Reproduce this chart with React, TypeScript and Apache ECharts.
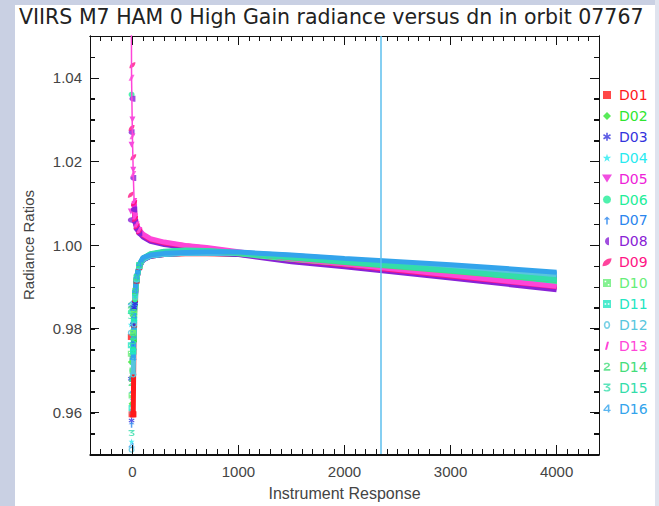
import React, { useEffect, useRef } from 'react';
import * as echarts from 'echarts';

const TITLE = 'VIIRS M7 HAM 0 High Gain radiance versus dn in orbit 07767';
const X_NAME = 'Instrument Response';
const Y_NAME = 'Radiance Ratios';

const DETECTORS = ['D01', 'D02', 'D03', 'D04', 'D05', 'D06', 'D07', 'D08', 'D09', 'D10', 'D11', 'D12', 'D13', 'D14', 'D15', 'D16'];
const COLORS = ['#ff1a1a', '#2fe62f', '#3333dd', '#28eaf0', '#ee22d8', '#22ee99', '#2a86ee', '#8a22d6', '#ff1585', '#66ee77', '#22e6c2', '#58c6de', '#ff45d8', '#44dd7a', '#33ddaa', '#33a4ec'];
// detectors whose ratio comes down from above 1 at low response
const UPPER = ['D05', 'D08', 'D09', 'D13'];

// instrument response (dn) at which each detector ratio is sampled
const DN = [-15, -8, 0, 8, 16, 25, 40, 65, 100, 170, 300, 500, 700, 1000, 1500, 2000, 3000, 4000];

const D01 = [0.978, 0.9595, 0.968, 0.9595, 0.981, 0.987, 0.9915, 0.9948, 0.9965, 0.9973, 0.9977, 0.9979, 0.9979, 0.9978, 0.997, 0.9961, 0.9943, 0.9923];
const D02 = [0.972, 0.962, 0.976, 0.983, 0.977, 0.988, 0.992, 0.995, 0.9967, 0.9976, 0.9982, 0.9985, 0.9984, 0.9978, 0.9965, 0.9954, 0.9931, 0.9906];
const D03 = [0.968, 0.958, 0.973, 0.981, 0.985, 0.986, 0.9915, 0.9947, 0.9964, 0.9973, 0.9977, 0.998, 0.998, 0.9978, 0.9969, 0.996, 0.9941, 0.9921];
const D04 = [0.981, 0.953, 0.963, 0.975, 0.984, 0.988, 0.9918, 0.9949, 0.9966, 0.9974, 0.9978, 0.998, 0.9981, 0.9981, 0.9973, 0.9964, 0.9947, 0.9928];
const D05 = [1.008, 1.024, 1.03, 1.018, 1.009, 1.0058, 1.0042, 1.0031, 1.0022, 1.0012, 1.0004, 0.9997, 0.999, 0.998, 0.9963, 0.9951, 0.9923, 0.9897];
const D06 = [0.984, 1.036, 0.97, 0.975, 0.982, 0.987, 0.992, 0.9951, 0.9967, 0.9978, 0.9984, 0.9987, 0.9986, 0.998, 0.9967, 0.9956, 0.9934, 0.9911];
const D07 = [0.985, 0.957, 0.969, 0.9765, 0.983, 0.9885, 0.9925, 0.9952, 0.9968, 0.9975, 0.9979, 0.9981, 0.9982, 0.9982, 0.9975, 0.9966, 0.995, 0.9931];
const D08 = [1.006, 1.027, 1.035, 1.016, 1.0085, 1.0055, 1.0039, 1.0028, 1.0019, 1.0009, 1.0001, 0.9994, 0.9987, 0.9977, 0.996, 0.9948, 0.9921, 0.9893];
const D09 = [1.012, 1.028, 1.043, 1.021, 1.01, 1.0062, 1.0045, 1.0033, 1.0024, 1.0013, 1.0005, 0.9998, 0.9992, 0.9982, 0.9965, 0.9953, 0.9926, 0.99];
const D10 = [0.974, 0.964, 0.97, 0.979, 0.9835, 0.9875, 0.992, 0.995, 0.9966, 0.9977, 0.9983, 0.9986, 0.9985, 0.9979, 0.9966, 0.9955, 0.9932, 0.9908];
const D11 = [0.976, 0.961, 0.968, 0.9745, 0.982, 0.988, 0.9918, 0.995, 0.9966, 0.9977, 0.9983, 0.9986, 0.9985, 0.998, 0.9967, 0.9957, 0.9935, 0.9913];
const D12 = [0.979, 0.951, 0.96, 0.969, 0.981, 0.9875, 0.9917, 0.9948, 0.9965, 0.9974, 0.9978, 0.998, 0.998, 0.998, 0.9971, 0.9962, 0.9944, 0.9925];
const D13 = [1.09, 1.04, 1.026, 1.017, 1.0105, 1.0068, 1.0049, 1.0036, 1.0026, 1.0015, 1.0007, 0.9999, 0.9994, 0.9984, 0.9967, 0.9955, 0.9928, 0.9901];
const D14 = [0.9855, 0.967, 0.9735, 0.978, 0.984, 0.989, 0.9923, 0.9952, 0.9968, 0.9978, 0.9984, 0.9987, 0.9986, 0.9981, 0.9969, 0.9958, 0.9937, 0.9915];
const D15 = [0.983, 0.955, 0.972, 0.977, 0.983, 0.9885, 0.9922, 0.9952, 0.9969, 0.9979, 0.9985, 0.9988, 0.9987, 0.9982, 0.997, 0.996, 0.9939, 0.9917];
const D16 = [0.986, 0.952, 0.965, 0.973, 0.983, 0.989, 0.9924, 0.9954, 0.997, 0.9976, 0.998, 0.9982, 0.9983, 0.9983, 0.9976, 0.9968, 0.9953, 0.9935];

const VALUES = [D01, D02, D03, D04, D05, D06, D07, D08, D09, D10, D11, D12, D13, D14, D15, D16];

// vertical reference line position (instrument response)
const CUT_DN = 2340;

const X_MIN = -400;
const X_MAX = 4400;
const X_MINOR_STEP = 100;
const Y_MIN = 0.95;
const Y_MAX = 1.05;
const Y_MINOR_STEP = 0.005;
const X_MAJOR = [0, 1000, 2000, 3000, 4000];
const Y_MAJOR = [0.96, 0.98, 1.0, 1.02, 1.04];

const ICONS = [
  'path://M0,0L10,0L10,10L0,10Z',
  'path://M5,0L10,5L5,10L0,5Z',
  'path://M4,0L6,0L6,3.3L8.9,1.6L9.9,3.4L7,5L9.9,6.6L8.9,8.4L6,6.7L6,10L4,10L4,6.7L1.1,8.4L0.1,6.6L3,5L0.1,3.4L1.1,1.6L4,3.3Z',
  'path://M5,0L6.2,3.6L10,3.6L7,5.9L8.1,9.5L5,7.3L1.9,9.5L3,5.9L0,3.6L3.8,3.6Z',
  'path://M0,1L10,1L5,9Z',
  'circle',
  'path://M5,0L9,4L6,4L6,10L4,10L4,4L1,4Z',
  'path://M6,0C3,0,1,2.2,1,5C1,7.8,3,10,6,10Z',
  'path://M1,9C1,4,5,1,10,1C10,6,6,9,1,9Z',
  'path://M0,0L10,0L10,10L0,10Z M2,2L2,4L4,4L4,2Z M6,6L6,8L8,8L8,6Z',
  'path://M0,0L10,0L10,10L0,10Z M2,4L2,6L4,6L4,4Z M6,4L6,6L8,6L8,4Z',
  'path://M5,0C7.5,0,9,2.2,9,5C9,7.8,7.5,10,5,10C2.5,10,1,7.8,1,5C1,2.2,2.5,0,5,0Z M5,2C3.8,2,3,3.2,3,5C3,6.8,3.8,8,5,8C6.2,8,7,6.8,7,5C7,3.2,6.2,2,5,2Z',
  'path://M5,0L7.5,0L5,10L2.5,10Z',
  'path://M1,2C2,0,8,-0.5,8.5,2.5C9,5,4,7,3.5,8L9,8L9,10L1,10L1,8.5C2,6,7,4.5,6.5,2.8C6,1.5,3.5,1.5,2.5,3.2Z',
  'path://M1,1L9,1L9,2.5L5.5,4.5C8,4.8,9.5,6.2,9,8C8.5,10.5,3,10.8,1,9L2,7.8C3.5,9,7,9,7,7.3C7,5.8,5,5.5,3.5,5.7L3.5,4.3L6,2.6L1,2.6Z',
  'path://M6,0L8,0L8,6.5L9.5,6.5L9.5,8L8,8L8,10L6,10L6,8L0.5,8L0.5,6.5Z M6,2.5L2.5,6.5L6,6.5Z',
];

const FONT = 'DejaVu Sans';
const AXIS_COLOR = '#111';
const TEXT_COLOR = '#444';

const CHART_W = 659;
const CHART_H = 506;
const GRID = { left: 90, right: 60, top: 36, bottom: 51 };
const MAJOR_TICK_PX = 9;
const MINOR_TICK_PX = 5;

function buildOption() {
  const axisLine = { show: true, onZero: false, lineStyle: { color: AXIS_COLOR, width: 1 } };

  const majorX = (position: string, labels: boolean) => ({
    type: 'value',
    gridIndex: 0,
    position,
    min: X_MIN,
    max: X_MAX,
    name: labels ? X_NAME : undefined,
    nameLocation: 'middle',
    nameGap: 31,
    nameTextStyle: { fontSize: 16, color: TEXT_COLOR },
    axisLine,
    axisTick: { show: true, inside: true, length: MAJOR_TICK_PX, customValues: X_MAJOR, lineStyle: { color: AXIS_COLOR, width: 1 } },
    axisLabel: labels
      ? { customValues: X_MAJOR, fontSize: 15, color: TEXT_COLOR, margin: 10, formatter: (v: number) => String(v) }
      : { show: false },
    splitLine: { show: false },
  });
  const minorX = (position: string) => ({
    type: 'value',
    gridIndex: 1,
    position,
    min: X_MIN,
    max: X_MAX,
    interval: X_MINOR_STEP,
    axisLine,
    axisTick: { show: true, inside: true, length: MINOR_TICK_PX, lineStyle: { color: AXIS_COLOR, width: 1 } },
    axisLabel: { show: false },
    splitLine: { show: false },
  });
  const majorY = (position: string, labels: boolean) => ({
    type: 'value',
    gridIndex: 0,
    position,
    min: Y_MIN,
    max: Y_MAX,
    name: labels ? Y_NAME : undefined,
    nameLocation: 'middle',
    nameGap: 54,
    nameTextStyle: { fontSize: 15, color: TEXT_COLOR },
    axisLine,
    axisTick: { show: true, inside: true, length: MAJOR_TICK_PX, customValues: Y_MAJOR, lineStyle: { color: AXIS_COLOR, width: 1 } },
    axisLabel: labels
      ? { customValues: Y_MAJOR, fontSize: 15, color: TEXT_COLOR, margin: 8, formatter: (v: number) => v.toFixed(2) }
      : { show: false },
    splitLine: { show: false },
  });
  const minorY = (position: string) => ({
    type: 'value',
    gridIndex: 1,
    position,
    min: Y_MIN,
    max: Y_MAX,
    interval: Y_MINOR_STEP,
    axisLine,
    axisTick: { show: true, inside: true, length: MINOR_TICK_PX, lineStyle: { color: AXIS_COLOR, width: 1 } },
    axisLabel: { show: false },
    splitLine: { show: false },
  });

  const series: any[] = [];
  DETECTORS.forEach((name, i) => {
    const color = COLORS[i];
    const vals = VALUES[i];
    const pts = DN.map((x, j) => [x, vals[j]]);
    const upper = UPPER.includes(name);
    const lineStart = upper ? 4 : 3;
    const dotStart = name === 'D13' ? 1 : 0;
    if (name === 'D13') {
      series.push({
        name,
        type: 'line',
        xAxisIndex: 0,
        yAxisIndex: 0,
        data: pts.slice(0, lineStart + 1),
        showSymbol: false,
        lineStyle: { width: 1.5, color },
        itemStyle: { color },
      });
    }
    // noisy low-response samples drawn as separate markers
    series.push({
      name,
      type: 'scatter',
      xAxisIndex: 0,
      yAxisIndex: 0,
      data: pts.slice(dotStart, lineStart + 1),
      symbol: ICONS[i],
      symbolSize: 6,
      itemStyle: { color },
    });
    series.push({
      name,
      type: 'line',
      xAxisIndex: 0,
      yAxisIndex: 0,
      data: pts.slice(lineStart),
      symbol: ICONS[i],
      symbolSize: (v: number[]) => (v[0] < 100 ? 6 : 0),
      lineStyle: { width: 5, color },
      itemStyle: { color },
    });
  });

  series.push({
    name: 'cut',
    type: 'line',
    xAxisIndex: 0,
    yAxisIndex: 0,
    data: [],
    markLine: {
      silent: true,
      symbol: ['none', 'none'],
      label: { show: false },
      lineStyle: { color: '#5cbfee', width: 1.5, type: 'solid' },
      data: [{ xAxis: CUT_DN }],
    },
  });

  // inward box tick marks at the scale's tick values (drawn by the series layer as well)
  const xPerPx = (X_MAX - X_MIN) / (CHART_W - GRID.left - GRID.right);
  const yPerPx = (Y_MAX - Y_MIN) / (CHART_H - GRID.top - GRID.bottom);
  const tickSegs: any[] = [];
  for (let k = 1; X_MIN + k * X_MINOR_STEP < X_MAX; k++) {
    const v = X_MIN + k * X_MINOR_STEP;
    const px = X_MAJOR.includes(v) ? MAJOR_TICK_PX : MINOR_TICK_PX;
    tickSegs.push([{ coord: [v, Y_MIN + 1e-7] }, { coord: [v, Y_MIN + px * yPerPx] }]);
    tickSegs.push([{ coord: [v, Y_MAX - 1e-7] }, { coord: [v, Y_MAX - px * yPerPx] }]);
  }
  for (let k = 1; Y_MIN + k * Y_MINOR_STEP < Y_MAX - 1e-9; k++) {
    const v = Math.round((Y_MIN + k * Y_MINOR_STEP) * 1e6) / 1e6;
    const px = Y_MAJOR.some((m) => Math.abs(m - v) < 1e-9) ? MAJOR_TICK_PX : MINOR_TICK_PX;
    tickSegs.push([{ coord: [X_MIN + 0.01, v] }, { coord: [X_MIN + px * xPerPx, v] }]);
    tickSegs.push([{ coord: [X_MAX - 0.01, v] }, { coord: [X_MAX - px * xPerPx, v] }]);
  }
  series.push({
    name: 'ticks',
    type: 'scatter',
    xAxisIndex: 0,
    yAxisIndex: 0,
    data: [[X_MIN, Y_MIN]],
    symbolSize: 0,
    clip: false,
    z: 5,
    markLine: {
      silent: true,
      symbol: ['none', 'none'],
      label: { show: false },
      lineStyle: { color: AXIS_COLOR, width: 1, type: 'solid' },
      data: tickSegs,
    },
  });

  return {
    animation: false,
    title: {
      text: TITLE,
      left: 19,
      top: 6,
      padding: 0,
      textStyle: { fontFamily: FONT, fontSize: 20.5, fontWeight: 'normal', color: '#222' },
    },
    legend: {
      orient: 'vertical',
      left: 602,
      top: 88,
      itemWidth: 14,
      itemHeight: 8,
      itemGap: 6.9,
      selectedMode: false,
      padding: 0,
      textStyle: { fontFamily: FONT, fontSize: 14, lineHeight: 14 },
      data: DETECTORS.map((name, i) => ({ name, icon: ICONS[i], textStyle: { color: COLORS[i] } })),
    },
    grid: [{ ...GRID }, { ...GRID }],
    xAxis: [majorX('bottom', true), majorX('top', false), minorX('bottom'), minorX('top')],
    yAxis: [majorY('left', true), majorY('right', false), minorY('left'), minorY('right')],
    series,
  };
}

export default function App() {
  const ref = useRef<HTMLDivElement>(null);
  useEffect(() => {
    if (!ref.current) return;
    const chart = echarts.init(ref.current, null, { renderer: 'svg' });
    chart.setOption(buildOption() as any);
    return () => chart.dispose();
  }, []);
  return (
    <div style={{ position: 'absolute', left: 0, top: 0, width: CHART_W, height: CHART_H, background: '#c9d0e3', overflow: 'hidden' }}>
      <div style={{ position: 'absolute', left: 655, top: 0, width: 4, height: CHART_H, background: '#dfe3ee' }} />
      <div style={{ position: 'absolute', left: 15, top: 5, width: 640, height: 501, background: '#ffffff' }} />
      <div ref={ref} style={{ position: 'absolute', left: 0, top: 0, width: CHART_W, height: CHART_H }} />
    </div>
  );
}
